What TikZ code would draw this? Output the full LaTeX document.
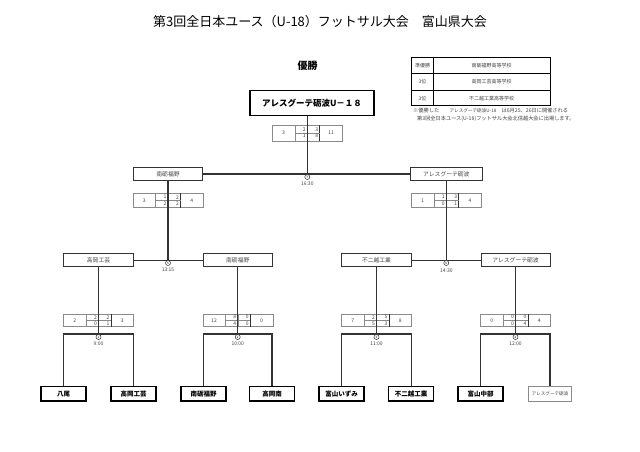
\documentclass[tikz,border=0pt]{standalone}
\usepackage{fontspec}
\setmainfont{Noto Sans CJK JP}
\usetikzlibrary{calc}
\definecolor{ln}{HTML}{333333}
\definecolor{sg}{HTML}{8A8A8A}
\definecolor{tx}{HTML}{444444}
\newcommand\fs[1]{\fontsize{#1}{#1}\selectfont}
\tikzset{
 teambox/.style={draw=black, line width=1.2pt, minimum width=45pt, minimum height=14.5pt, inner sep=0pt, font=\fs{6.5}\bfseries},
 rbox/.style={draw=ln, line width=1pt, minimum height=12.7pt, inner sep=0pt, font=\fs{5.8}, text=tx},
 sbox/.style={draw=sg, line width=0.5pt, minimum width=70pt, inner sep=0pt},
 sline/.style={draw=sg, line width=0.5pt},
 sdark/.style={draw=ln, line width=0.7pt},
 snum/.style={font=\fs{5}, text=tx, inner sep=0pt},
 br/.style={draw=ln, line width=1.1pt},
 mcirc/.style={circle, draw=ln, line width=0.5pt, fill=white, minimum size=5pt, inner sep=0pt, font=\fs{3}},
 tlab/.style={font=\fs{5}, text=tx, inner sep=0pt},
 tcell/.style={draw=black, line width=0.7pt, inner sep=0pt, font=\fs{5}, text=tx},
}
\def\sh{12.7}
\newcommand\scoregrid[9]{%
 \node[sbox, minimum height=\sh pt] (#1) at (#2,#3) {};
 \draw[sline] ($(#1.north)+(-12.5,0)$) -- ($(#1.south)+(-12.5,0)$);
 \draw[sline] ($(#1.north)$) -- ($(#1.south)$);
 \draw[sdark] ($(#1.north)+(12.5,0)$) -- ($(#1.south)+(12.5,0)$);
 \draw[sline] ($(#1.center)+(-12.5,0)$) -- ($(#1.center)+(12.5,0)$);
 \node[snum] (#1-l) at ($(#1.center)+(-23.75,0)$) {#4};
 \node[snum, anchor=east] (#1-a) at ($(#1.center)+(-1.5,-3.1)$) {#5};
 \node[snum, anchor=east] (#1-b) at ($(#1.center)+(11,-3.1)$) {#6};
 \node[snum, anchor=east] (#1-c) at ($(#1.center)+(-1.5,3.1)$) {#7};
 \node[snum, anchor=east] (#1-d) at ($(#1.center)+(11,3.1)$) {#8};
 \node[snum] (#1-r) at ($(#1.center)+(23.75,0)$) {#9};
}
\begin{document}
\begin{tikzpicture}[x=1pt,y=-1pt]
\useasboundingbox[fill=white] (0,0) rectangle (640,452);

% title
\node[font=\fs{13}, inner sep=0pt] (title) at (320,22) {第3回全日本ユース（U-18）フットサル大会　富山県大会};

% result table
\node[tcell, minimum width=21.6pt, minimum height=16pt] (ra1) at (422.5,65.3) {準優勝};
\node[tcell, minimum width=116.7pt, minimum height=16pt] (rb1) at (491.65,65.3) {南砺福野高等学校};
\node[tcell, minimum width=21.6pt, minimum height=17.4pt] (ra2) at (422.5,82) {3位};
\node[tcell, minimum width=116.7pt, minimum height=17.4pt] (rb2) at (491.65,82) {高岡工芸高等学校};
\node[tcell, minimum width=21.6pt, minimum height=15pt] (ra3) at (422.5,98.2) {3位};
\node[tcell, minimum width=116.7pt, minimum height=15pt] (rb3) at (491.65,98.2) {不二越工業高等学校};
\node[anchor=west, font=\fs{5.2}, text=tx, inner sep=0pt] (n1) at (413,110.7) {※優勝した　　{\fs{4.6}アレスグーテ砺波U-18}　は6月25、26日に開催される};
\node[anchor=west, font=\fs{5.2}, text=tx, inner sep=0pt] (n2) at (417,119) {第3回全日本ユース(U-18)フットサル大会北信越大会に出場します。};

% champion
\node[font=\fs{10}\bfseries, inner sep=0pt] (win) at (307.5,66) {優勝};
\node[draw=black, line width=1.3pt, minimum width=124pt, minimum height=25pt, inner sep=0pt, font=\fs{8.5}\bfseries] (ch) at (312,103.2) {アレスグーテ砺波U－１８};

% score boxes
\def\sh{15.5}
\scoregrid{sf}{307.3}{133}{3}{2}{3}{1}{8}{11}
\def\sh{14}
\scoregrid{ss1}{168}{200.3}{3}{1}{2}{2}{2}{4}
\scoregrid{ss2}{446.3}{200.3}{1}{1}{3}{0}{1}{4}
\def\sh{12.7}
\scoregrid{sr1}{98.5}{320.3}{2}{2}{2}{0}{1}{3}
\scoregrid{sr2}{237.75}{320.3}{12}{8}{0}{4}{0}{0}
\scoregrid{sr3}{376.5}{320.3}{7}{2}{5}{5}{3}{8}
\scoregrid{sr4}{515.5}{320.3}{0}{0}{0}{0}{4}{4}

% semifinal boxes
\node[rbox, minimum width=69.4pt] (s1) at (168,174) {南砺福野};
\node[rbox, minimum width=71.7pt] (s2) at (446.3,174) {アレスグーテ砺波};

% quarterfinal boxes
\node[rbox, minimum width=70pt] (q1) at (98.5,260.3) {高岡工芸};
\node[rbox, minimum width=69.4pt] (q2) at (237.75,260.3) {南砺福野};
\node[rbox, minimum width=70pt] (q3) at (376.5,260.3) {不二越工業};
\node[rbox, minimum width=69pt] (q4) at (515.5,260.3) {アレスグーテ砺波};

% first round teams
\node[teambox] (t1) at (63.5,393.8) {八尾};
\node[teambox] (t2) at (133.5,393.8) {高岡工芸};
\node[teambox] (t3) at (203.5,393.8) {南砺福野};
\node[teambox] (t4) at (272,393.8) {高岡南};
\node[teambox] (t5) at (341.5,393.8) {富山いずみ};
\node[teambox] (t6) at (411.2,393.8) {不二越工業};
\node[teambox] (t7) at (480.5,393.8) {富山中部};
\node[draw=sg, line width=0.6pt, minimum width=43.4pt, minimum height=14.5pt, inner sep=0pt, font=\fs{4.6}, text=tx] (t8) at (550,393.8) {アレスグーテ砺波};

% junctions
\coordinate (jf) at (307.3,174);
\coordinate (js1) at (168,260.3);
\coordinate (js2) at (446.3,260.3);
\coordinate (j1) at (98.5,334);
\coordinate (j2) at (237.75,334);
\coordinate (j3) at (376.5,334);
\coordinate (j4) at (515.5,334);

% connectors
\draw[br] (ch.south -| jf) -- (jf);
\draw[br] (s1.east) -- (s2.west);
\draw[br] (s1.south) -- (js1);
\draw[br] (s2.south) -- (js2);
\draw[br] (q1.east) -- (q2.west);
\draw[br] (q3.east) -- (q4.west);
\draw[br] (q1.south) -- (j1);
\draw[br] (q2.south) -- (j2);
\draw[br] (q3.south) -- (j3);
\draw[br] (q4.south) -- (j4);
\draw[br] (t1.north) |- (j1) -| (t2.north);
\draw[br] (t3.north) |- (j2) -| (t4.north);
\draw[br] (t5.north) |- (j3) -| (t6.north);
\draw[br] (t7.north) |- (j4) -| (t8.north);

% match numbers and times
\node[mcirc] (c7) at (307.3,177) {7};
\node[tlab] (tm7) at (307.3,184) {16:30};
\node[mcirc] (c5) at (168,263) {5};
\node[tlab] (tm5) at (168,270) {13:15};
\node[mcirc] (c6) at (446.3,263) {6};
\node[tlab] (tm6) at (446.3,270.5) {14:30};
\node[mcirc] (c1) at (98.5,337) {1};
\node[tlab] (tm1) at (98.5,344) {9:00};
\node[mcirc] (c2) at (237.75,337) {2};
\node[tlab] (tm2) at (237.75,344) {10:00};
\node[mcirc] (c3) at (376.5,337) {3};
\node[tlab] (tm3) at (376.5,344) {11:00};
\node[mcirc] (c4) at (515.5,337) {4};
\node[tlab] (tm4) at (515.5,344) {12:00};
\end{tikzpicture}
\end{document}
